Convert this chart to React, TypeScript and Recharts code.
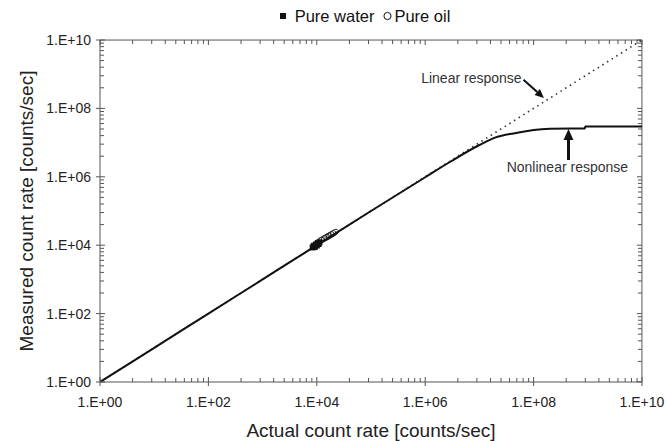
import React from "react";
import {
  ComposedChart,
  Legend,
  Line,
  ReferenceDot,
  ReferenceLine,
  Scatter,
  XAxis,
  YAxis,
} from "recharts";

// values
const linearX = [1, 1e10];
const linearY = [1, 1e10];

const nonlinearX = [1, 10, 100, 1e3, 1e4, 1e5, 1e6, 3e6, 1e7, 2e7, 5e7, 1e8, 2e8, 5e8, 8.8e8, 9e8, 1e10];
const nonlinearY = [1, 10, 100, 1e3, 1e4, 1e5, 9.7e5, 2.85e6, 8.5e6, 1.42e7, 1.95e7, 2.35e7, 2.55e7, 2.6e7, 2.6e7, 2.95e7, 2.95e7];

const waterX = [8.4e3, 8.8e3, 9.2e3, 9.6e3, 1.0e4, 1.04e4, 1.08e4, 1.12e4];
const waterY = [8.6e3, 9.6e3, 8.9e3, 1.05e4, 9.8e3, 1.15e4, 1.08e4, 1.22e4];

const oilX = [1.15e4, 1.3e4, 1.45e4, 1.6e4, 1.75e4, 1.9e4, 2.1e4];
const oilY = [1.35e4, 1.5e4, 1.65e4, 1.8e4, 1.95e4, 2.1e4, 2.3e4];

const majorTicks = [1, 1e2, 1e4, 1e6, 1e8, 1e10];
const minorFactors = [4, 9, 16, 25, 36, 49, 64, 81];

const allTicks = [
  ...majorTicks,
  ...majorTicks.slice(0, -1).flatMap((m) => minorFactors.map((f) => m * f)),
].sort((a, b) => a - b);

const zip = (xs: number[], ys: number[]) => xs.map((x, i) => ({ x, y: ys[i] }));

const linearData = zip(linearX, linearY);
const nonlinearData = zip(nonlinearX, nonlinearY);
const waterData = zip(waterX, waterY);
const oilData = zip(oilX, oilY);

const FONT = "'Liberation Sans', Arial, sans-serif";
const AXIS = "#555";
const INK = "#111";
// frame edges kept a hair inside the domain so reference lines are not discarded
const LO = 1.01;
const EDGE = 9.97e9;
const frameTicks = allTicks.map((t) => Math.min(Math.max(t, LO), EDGE));

function isMajor(v: number) {
  const l = Math.log10(v);
  return Math.abs(l - Math.round(l)) < 0.01;
}

function fmt(v: number) {
  const e = Math.round(Math.log10(v));
  return `1.E+${String(e).padStart(2, "0")}`;
}

function BottomTick(props: any) {
  const { x, y, payload } = props;
  const major = isMajor(payload.value);
  return (
    <g>
      <line x1={x} x2={x} y1={y - (major ? 5 : 4)} y2={y + (major ? 4 : 0)} stroke={AXIS} />
      {major && (
        <text x={x} y={y + 25} textAnchor="middle" fontSize={14} fill="#222" fontFamily={FONT}>
          {fmt(payload.value)}
        </text>
      )}
    </g>
  );
}

function LeftTick(props: any) {
  const { x, y, payload } = props;
  const major = isMajor(payload.value);
  return (
    <g>
      <line x1={x - (major ? 4 : 0)} x2={x + (major ? 5 : 4)} y1={y} y2={y} stroke={AXIS} />
      {major && (
        <text x={x - 9} y={y + 5} textAnchor="end" fontSize={14} fill="#222" fontFamily={FONT}>
          {fmt(payload.value)}
        </text>
      )}
    </g>
  );
}

const edgeLine = (p: any) => <line x1={p.x1} y1={p.y1} x2={p.x2} y2={p.y2} stroke={AXIS} strokeWidth={1} />;

// short inward tick on the top edge / right edge of the frame
function topTick(major: boolean) {
  return (p: any) => <line x1={p.x1} x2={p.x1} y1={p.y1} y2={p.y1 + (major ? 5 : 4)} stroke={AXIS} />;
}
function rightTick(major: boolean) {
  return (p: any) => <line x1={p.x1} x2={p.x1 - (major ? 5 : 4)} y1={p.y1} y2={p.y1} stroke={AXIS} />;
}

function Square(props: any) {
  const { cx, cy } = props;
  return <rect x={cx - 3} y={cy - 3} width={6} height={6} fill={INK} />;
}

function Ring(props: any) {
  const { cx, cy } = props;
  return (
    <ellipse
      cx={cx}
      cy={cy}
      rx={4.5}
      ry={2.8}
      transform={`rotate(-32 ${cx} ${cy})`}
      fill="none"
      stroke={INK}
      strokeWidth={0.8}
    />
  );
}

function Arrow(width: number, head: number) {
  return (props: any) => {
    const { x1, y1, x2, y2 } = props;
    const dx = x2 - x1;
    const dy = y2 - y1;
    const len = Math.hypot(dx, dy);
    const ux = dx / len;
    const uy = dy / len;
    const bx = x2 - ux * head;
    const by = y2 - uy * head;
    const hw = head * 0.45;
    return (
      <g>
        <line x1={x1} y1={y1} x2={bx} y2={by} stroke={INK} strokeWidth={width} />
        <polygon
          points={`${x2},${y2} ${bx - uy * hw},${by + ux * hw} ${bx + uy * hw},${by - ux * hw}`}
          fill={INK}
        />
      </g>
    );
  };
}

function Note(text: string, anchor: "start" | "middle" | "end") {
  return (props: any) => (
    <text
      x={props.cx}
      y={props.cy}
      textAnchor={anchor}
      dominantBaseline="central"
      fontSize={14}
      fill="#333"
      fontFamily={FONT}
    >
      {text}
    </text>
  );
}

function LegendBox() {
  return (
    <div
      style={{
        height: 40,
        boxSizing: "border-box",
        paddingTop: 6,
        paddingLeft: 88,
        display: "flex",
        justifyContent: "center",
        alignItems: "flex-start",
        fontFamily: FONT,
        fontSize: 16.5,
        color: INK,
        lineHeight: "20px",
      }}
    >
      <svg width={6} height={20} style={{ marginRight: 9 }}>
        <rect y={7} width={6} height={6} fill={INK} />
      </svg>
      <span style={{ marginRight: 9 }}>Pure water</span>
      <svg width={9} height={20} style={{ marginRight: 2 }}>
        <circle cx={4.5} cy={10} r={3.6} fill="none" stroke={INK} strokeWidth={1} />
      </svg>
      <span>Pure oil</span>
    </div>
  );
}

const logAxis = {
  type: "number" as const,
  scale: "log" as const,
  domain: [1, 1e10],
  allowDataOverflow: true,
  ticks: allTicks,
  interval: 0 as const,
  tickLine: false,
  tickSize: 0,
  tickMargin: 0,
  stroke: AXIS,
};

export default function App() {
  return (
    <div style={{ position: "absolute", left: 0, top: 0, width: 666, height: 441, background: "#fff", fontFamily: FONT }}>
      <ComposedChart width={666} height={441} margin={{ top: 0, right: 24, bottom: 0, left: 0 }}>
        <XAxis
          dataKey="x"
          {...logAxis}
          tick={<BottomTick />}
          height={59}
          label={{
            content: ({ viewBox }: any) => (
              <text
                x={viewBox.x + viewBox.width / 2}
                y={viewBox.y + 55}
                textAnchor="middle"
                fontSize={19}
                fill="#222"
                fontFamily={FONT}
              >
                Actual count rate [counts/sec]
              </text>
            ),
          }}
        />
        <YAxis
          dataKey="y"
          {...logAxis}
          tick={<LeftTick />}
          width={100}
          label={{
            content: ({ viewBox }: any) => {
              const cx = viewBox.x + 33;
              const cy = viewBox.y + viewBox.height / 2;
              return (
                <text
                  x={cx}
                  y={cy}
                  textAnchor="middle"
                  transform={`rotate(-90 ${cx} ${cy})`}
                  fontSize={19}
                  fill="#222"
                  fontFamily={FONT}
                >
                  Measured count rate [counts/sec]
                </text>
              );
            },
          }}
        />
        <Legend verticalAlign="top" align="center" content={<LegendBox />} />

        {/* frame: top and right edges with inward ticks */}
        <ReferenceLine
          segment={[
            { x: LO, y: EDGE },
            { x: EDGE, y: EDGE },
          ]}
          shape={edgeLine}
        />
        <ReferenceLine
          segment={[
            { x: EDGE, y: LO },
            { x: EDGE, y: EDGE },
          ]}
          shape={edgeLine}
        />
        {frameTicks.map((t) => (
          <ReferenceLine
            key={`tx${t}`}
            segment={[
              { x: t, y: EDGE },
              { x: t, y: 0.99 * EDGE },
            ]}
            shape={topTick(isMajor(t))}
          />
        ))}
        {frameTicks.map((t) => (
          <ReferenceLine
            key={`ty${t}`}
            segment={[
              { x: EDGE, y: t },
              { x: 0.99 * EDGE, y: t },
            ]}
            shape={rightTick(isMajor(t))}
          />
        ))}

        <Line
          data={linearData}
          dataKey="y"
          type="linear"
          stroke="#333"
          strokeWidth={1.6}
          strokeDasharray="1.5 4"
          dot={false}
          isAnimationActive={false}
          legendType="none"
        />
        <Line
          data={nonlinearData}
          dataKey="y"
          type="monotone"
          stroke={INK}
          strokeWidth={2}
          dot={false}
          isAnimationActive={false}
          legendType="none"
        />
        <Scatter name="Pure water" data={waterData} dataKey="y" shape={<Square />} isAnimationActive={false} />
        <Scatter name="Pure oil" data={oilData} dataKey="y" shape={<Ring />} isAnimationActive={false} />

        <ReferenceLine
          segment={[
            { x: 6.5e7, y: 6.9e8 },
            { x: 1.55e8, y: 2.0e8 },
          ]}
          shape={Arrow(2, 9)}
        />
        <ReferenceLine
          segment={[
            { x: 4.4e8, y: 3.1e6 },
            { x: 4.4e8, y: 2.5e7 },
          ]}
          shape={Arrow(3, 11)}
        />
        <ReferenceDot x={6.0e7} y={7.7e8} r={0} shape={Note("Linear response", "end")} />
        <ReferenceDot x={4.2e8} y={2.0e6} r={0} shape={Note("Nonlinear response", "middle")} />
      </ComposedChart>
    </div>
  );
}
